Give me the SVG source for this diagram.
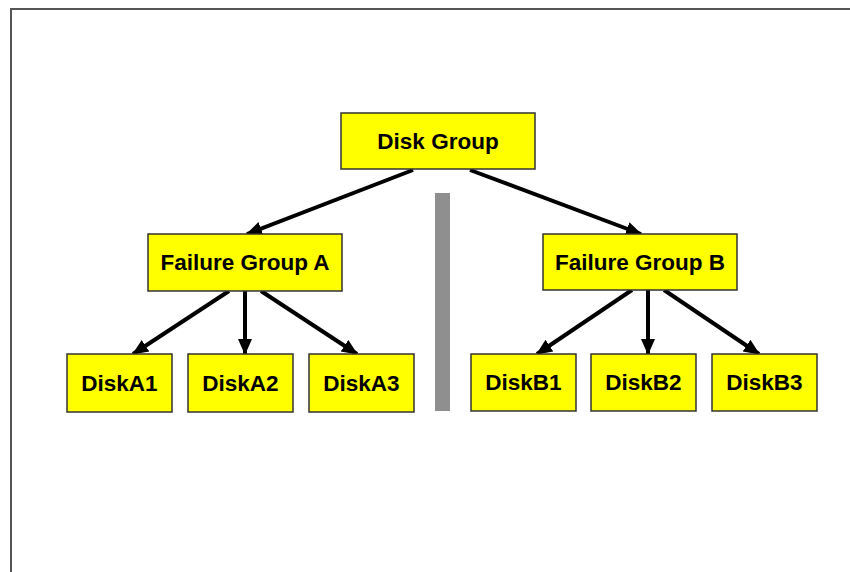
<svg xmlns="http://www.w3.org/2000/svg" width="850" height="572" viewBox="0 0 850 572">
  <defs>
    <style>
      .box { fill: #ffff00; stroke: #333333; stroke-width: 1.5; }
      .lbl { font-family: "Liberation Sans", Arial, sans-serif; font-weight: bold; font-size: 22.5px; fill: #000000; text-anchor: middle; }
      .conn { stroke: #000000; stroke-width: 4; fill: none; marker-end: url(#arrow); }
    </style>
    <marker id="arrow" markerUnits="userSpaceOnUse" markerWidth="16" markerHeight="16" refX="15" refY="8" orient="auto">
      <path d="M0,1 L16,8 L0,15 Z" fill="#000000"/>
    </marker>
  </defs>
  <rect x="0" y="0" width="850" height="572" fill="#ffffff"/>
  <rect x="11" y="9" width="900" height="700" fill="none" stroke="#555555" stroke-width="2"/>
  <rect x="435" y="193" width="15" height="218" fill="#8f8f8f"/>

  <g id="connectors">
    <line class="conn" x1="413" y1="170" x2="247" y2="234"/>
    <line class="conn" x1="470" y1="170" x2="641" y2="234"/>
    <line class="conn" x1="229" y1="291" x2="133" y2="354"/>
    <line class="conn" x1="245" y1="291" x2="245" y2="354"/>
    <line class="conn" x1="261" y1="291" x2="357" y2="354"/>
    <line class="conn" x1="632" y1="290" x2="537" y2="354"/>
    <line class="conn" x1="648" y1="290" x2="648" y2="354"/>
    <line class="conn" x1="664" y1="290" x2="759" y2="354"/>
  </g>

  <g id="disk-group">
    <rect class="box" x="341" y="113" width="194" height="56"/>
    <text class="lbl" x="438" y="149">Disk Group</text>
  </g>
  <g id="failure-group-a">
    <rect class="box" x="148" y="234" width="194" height="57"/>
    <text class="lbl" x="245" y="270">Failure Group A</text>
  </g>
  <g id="failure-group-b">
    <rect class="box" x="543" y="234" width="194" height="56"/>
    <text class="lbl" x="640" y="270">Failure Group B</text>
  </g>
  <g id="diskA1">
    <rect class="box" x="67" y="354" width="105" height="58"/>
    <text class="lbl" x="119.5" y="391">DiskA1</text>
  </g>
  <g id="diskA2">
    <rect class="box" x="188" y="354" width="105" height="58"/>
    <text class="lbl" x="240.5" y="391">DiskA2</text>
  </g>
  <g id="diskA3">
    <rect class="box" x="309" y="354" width="105" height="58"/>
    <text class="lbl" x="361.5" y="391">DiskA3</text>
  </g>
  <g id="diskB1">
    <rect class="box" x="471" y="354" width="105" height="57"/>
    <text class="lbl" x="523.5" y="390">DiskB1</text>
  </g>
  <g id="diskB2">
    <rect class="box" x="591" y="354" width="105" height="57"/>
    <text class="lbl" x="643.5" y="390">DiskB2</text>
  </g>
  <g id="diskB3">
    <rect class="box" x="712" y="354" width="105" height="57"/>
    <text class="lbl" x="764.5" y="390">DiskB3</text>
  </g>
</svg>
